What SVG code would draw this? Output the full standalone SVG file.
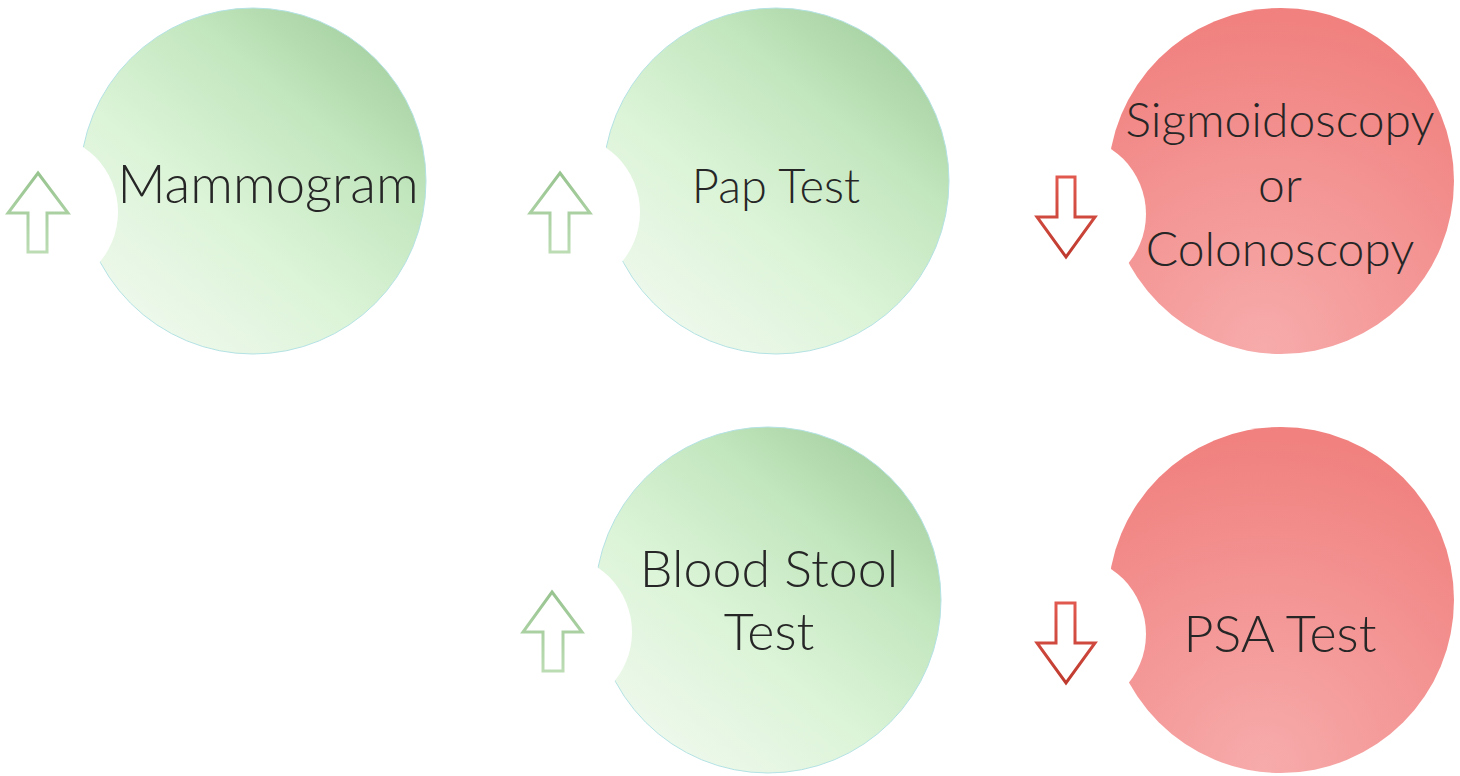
<svg xmlns="http://www.w3.org/2000/svg" width="1460" height="776" viewBox="0 0 1460 776">
<defs>
<linearGradient id="gGreen" x1="0.2" y1="1" x2="0.9" y2="0.15">
<stop offset="0" stop-color="#f0f9ee"/>
<stop offset="0.4" stop-color="#dcf4d8"/>
<stop offset="0.75" stop-color="#c2e6be"/>
<stop offset="1" stop-color="#a8d2a4"/>
</linearGradient>
<radialGradient id="gRed" cx="0.45" cy="0.98" r="0.95">
<stop offset="0" stop-color="#f7abab"/>
<stop offset="1" stop-color="#f0817f"/>
</radialGradient>
<linearGradient id="aGreen" x1="0" y1="0" x2="0" y2="1">
<stop offset="0" stop-color="#98c490"/>
<stop offset="1" stop-color="#bcdcb4"/>
</linearGradient>
<linearGradient id="aRed" x1="0" y1="0" x2="0" y2="1">
<stop offset="0" stop-color="#e0584e"/>
<stop offset="1" stop-color="#bf3a2e"/>
</linearGradient>
</defs>
<style>
.cg{fill:url(#gGreen);stroke:#b4e2e4;stroke-width:1}
.cr{fill:url(#gRed)}
.notch{fill:#ffffff}
.ag{fill:#ffffff;stroke:url(#aGreen);stroke-width:3;stroke-linejoin:miter}
.ar{fill:#ffffff;stroke:url(#aRed);stroke-width:3;stroke-linejoin:miter}
.t{font-family:Lato,"Liberation Sans",sans-serif;font-weight:300;fill:#262626;text-anchor:middle}
</style>
<rect width="1460" height="776" fill="#ffffff"/>
<g id="mammogram">
<circle class="cg" cx="253" cy="181" r="173"/>
<circle class="notch" cx="40" cy="212" r="78"/>
<path class="ag" d="M38,173 L68,213 L47,213 L47,252 L28,252 L28,213 L8,213 Z"/>
<text class="t" x="268" y="203" font-size="53">Mammogram</text>
</g>
<g id="pap-test">
<circle class="cg" cx="776" cy="181" r="173"/>
<circle class="notch" cx="562" cy="212" r="78"/>
<path class="ag" d="M560,173 L590,213 L569,213 L569,252 L550,252 L550,213 L530,213 Z"/>
<text class="t" x="776" y="203" font-size="47">Pap Test</text>
</g>
<g id="sigmoidoscopy">
<circle class="cr" cx="1281" cy="181" r="173"/>
<circle class="notch" cx="1068" cy="214" r="78"/>
<path class="ar" d="M1057,177 L1075,177 L1075,217 L1095,217 L1066,257 L1037,217 L1057,217 Z"/>
<text class="t" x="1280" y="137" font-size="48">Sigmoidoscopy</text>
<text class="t" x="1280" y="202" font-size="48">or</text>
<text class="t" x="1280" y="266" font-size="48">Colonoscopy</text>
</g>
<g id="blood-stool-test">
<circle class="cg" cx="768" cy="600" r="173"/>
<circle class="notch" cx="554" cy="632" r="78"/>
<path class="ag" d="M552,592 L582,632 L563,632 L563,671 L543,671 L543,632 L523,632 Z"/>
<text class="t" x="769" y="587" font-size="52">Blood Stool</text>
<text class="t" x="769" y="650" font-size="52">Test</text>
</g>
<g id="psa-test">
<circle class="cr" cx="1281" cy="600" r="173"/>
<circle class="notch" cx="1068" cy="634" r="78"/>
<path class="ar" d="M1056,603 L1075,603 L1075,643 L1095,643 L1066,683 L1037,643 L1056,643 Z"/>
<text class="t" x="1280" y="652" font-size="52">PSA Test</text>
</g>
<g id="connectors"></g>
</svg>
